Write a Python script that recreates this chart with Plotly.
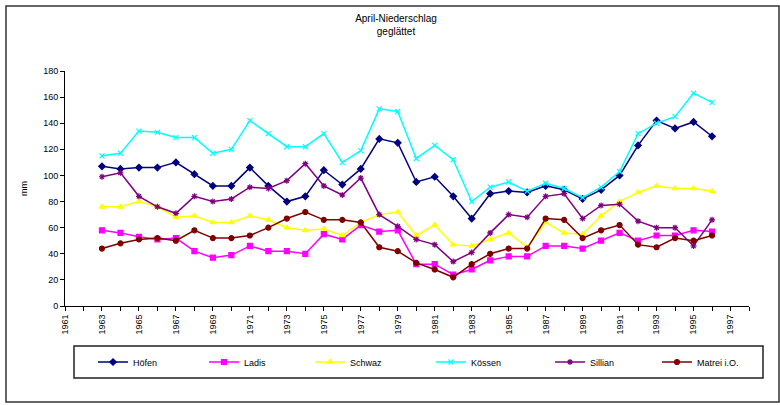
import plotly.graph_objects as go

# Smoothed April precipitation (mm), 1963-1996
years = list(range(1963, 1997))

hoefen = [107, 105, 106, 106, 110, 101, 92, 92, 106, 92, 80, 84, 104, 93, 105, 128, 125,
          95, 99, 84, 67, 86, 88, 87, 92, 89, 82, 89, 100, 123, 142, 136, 141, 130]
ladis = [58, 56, 53, 51, 52, 42, 37, 39, 46, 42, 42, 40, 55, 51, 62, 57, 58,
         32, 32, 24, 28, 35, 38, 38, 46, 46, 44, 50, 56, 50, 54, 54, 58, 57]
schwaz = [76, 76, 80, 76, 68, 69, 64, 64, 69, 66, 60, 58, 59, 54, 64, 70, 72,
          54, 62, 47, 46, 51, 56, 45, 64, 56, 55, 69, 80, 87, 92, 90, 90, 88]
koessen = [115, 117, 134, 133, 129, 129, 117, 120, 142, 132, 122, 122, 132, 110, 119, 151, 149,
           113, 123, 112, 80, 91, 95, 88, 94, 90, 83, 91, 103, 132, 140, 145, 163, 156]
sillian = [99, 102, 84, 76, 71, 84, 80, 82, 91, 90, 96, 109, 92, 85, 98, 70, 61,
           51, 47, 34, 41, 56, 70, 68, 84, 86, 67, 77, 78, 65, 60, 60, 46, 66]
matrei = [44, 48, 51, 52, 50, 58, 52, 52, 54, 60, 67, 72, 66, 66, 64, 45, 42,
          33, 28, 22, 32, 40, 44, 44, 67, 66, 52, 58, 62, 47, 45, 52, 50, 54]

station_names = ["Höfen", "Ladis", "Schwaz", "Kössen", "Sillian", "Matrei i.O."]
station_values = [hoefen, ladis, schwaz, koessen, sillian, matrei]
station_colors = ["#000080", "#FF00FF", "#FFFF00", "#00FFFF", "#800080", "#800000"]
station_symbols = ["diamond", "square", "triangle-up", "x-thin-open", "asterisk-open", "circle"]

x_tick_years = list(range(1961, 1998, 2))
y_ticks = list(range(0, 181, 20))

FONT = "Liberation Sans, Arial, sans-serif"

# plot area: x 65..749 px, y 71..306 px
L, R, T, B = 65, 749, 71, 306
W, H = 780, 405
pw, ph = R - L, B - T

def px_x(x):
    return (x - L) / pw

def px_y(y):
    return (B - y) / ph

# left edge (px) of each legend entry inside the legend frame
legend_left_px = [93, 204, 310, 431, 550, 657]
legend_ids = ["legend"] + [f"legend{i}" for i in range(2, 7)]

fig = go.Figure()
for name, vals, col, sym, lid in zip(station_names, station_values, station_colors,
                                     station_symbols, legend_ids):
    fig.add_trace(go.Scatter(
        x=years, y=vals, name=name, mode="lines+markers", legend=lid,
        line=dict(color=col, width=1.5),
        marker=dict(symbol=sym, size=5, color=col, line=dict(color=col, width=1.2)),
    ))

legend_layout = {}
for lid, lx in zip(legend_ids, legend_left_px):
    legend_layout[lid] = dict(
        orientation="h", x=px_x(lx), xanchor="left", y=px_y(362), yanchor="middle",
        itemwidth=30, bgcolor="rgba(0,0,0,0)", borderwidth=0,
        font=dict(family=FONT, size=9, color="black"),
    )

fig.update_layout(
    width=W, height=H,
    margin=dict(l=L, r=W - R, t=T, b=H - B),
    paper_bgcolor="white", plot_bgcolor="white",
    font=dict(family=FONT, size=9, color="black"),
    title=dict(text="April-Niederschlag<br>geglättet", x=396 / W, xanchor="center",
               y=1 - 22 / H, yanchor="top", xref="container", yref="container",
               font=dict(family=FONT, size=10, color="black")),
    showlegend=True,
    shapes=[
        # outer chart border
        dict(type="rect", xref="paper", yref="paper",
             x0=px_x(6), x1=px_x(779), y0=px_y(402), y1=px_y(6),
             line=dict(color="#333333", width=1.5), fillcolor="rgba(0,0,0,0)", layer="below"),
        # legend frame
        dict(type="rect", xref="paper", yref="paper",
             x0=px_x(74), x1=px_x(763), y0=px_y(378), y1=px_y(346),
             line=dict(color="#222222", width=1.5), fillcolor="rgba(0,0,0,0)", layer="below"),
    ],
    **legend_layout,
)

fig.update_xaxes(
    range=[1961, 1998], tickmode="array", tickvals=x_tick_years,
    ticktext=[str(y) for y in x_tick_years], tickangle=-90,
    ticks="outside", ticklen=4, tickwidth=1, tickcolor="black",
    minor=dict(dtick=1, tick0=1961, ticks="outside", ticklen=4, tickwidth=1, tickcolor="black", showgrid=False),
    showline=True, linecolor="black", linewidth=1, showgrid=False, zeroline=False,
    tickfont=dict(family=FONT, size=9, color="black"),
)
fig.update_yaxes(
    range=[0, 180], tickmode="array", tickvals=y_ticks,
    ticks="outside", ticklen=4, tickwidth=1, tickcolor="black",
    showline=True, linecolor="black", linewidth=1, showgrid=False, zeroline=False,
    tickfont=dict(family=FONT, size=9, color="black"),
    title=dict(text="mm", standoff=14, font=dict(family=FONT, size=9, color="black")),
)

fig.write_html("out.html")
